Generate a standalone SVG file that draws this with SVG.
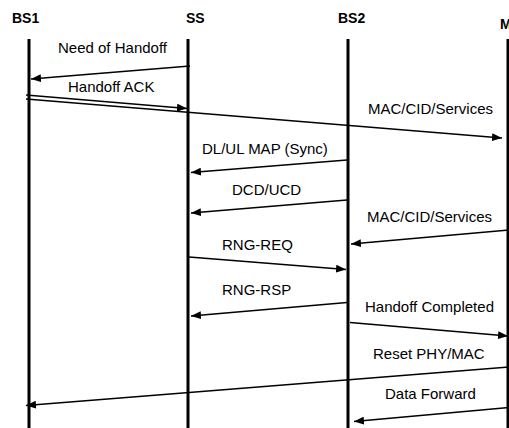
<svg xmlns="http://www.w3.org/2000/svg" width="509" height="428" viewBox="0 0 509 428">
<style>
.t{font-family:"Liberation Sans",Arial,sans-serif;font-size:14px;font-weight:bold;fill:#000}
.l{font-family:"Liberation Sans",Arial,sans-serif;font-size:15px;fill:#000}
.life{stroke:#000;stroke-width:3;fill:none}
.msg{stroke:#000;stroke-width:1.5;fill:none;marker-end:url(#ah)}
</style>
<defs>
<marker id="ah" markerUnits="userSpaceOnUse" markerWidth="11" markerHeight="8" refX="10" refY="4" orient="auto">
<path d="M0,0 L10,4 L0,8 Z" fill="#000"/>
</marker>
</defs>
<rect width="509" height="428" fill="#fff"/>
<g id="BS1"><text class="t" x="12" y="23">BS1</text><line class="life" x1="29" y1="39" x2="29" y2="428"/></g>
<g id="SS"><text class="t" x="186" y="23">SS</text><line class="life" x1="188" y1="39" x2="188" y2="428"/></g>
<g id="BS2"><text class="t" x="338" y="23">BS2</text><line class="life" x1="348" y1="39" x2="348" y2="428"/></g>
<g id="MS"><text class="t" x="500" y="29">M</text><line class="life" x1="508" y1="39" x2="508" y2="428"/></g>
<g id="connectors">
<line class="msg" x1="190" y1="66" x2="31" y2="79"/>
<line class="msg" x1="26" y1="95" x2="187" y2="108.5"/>
<line class="msg" x1="26" y1="99" x2="502" y2="138"/>
<line class="msg" x1="347" y1="160" x2="191" y2="172.5"/>
<line class="msg" x1="347" y1="200" x2="191" y2="213"/>
<line class="msg" x1="509" y1="230" x2="351" y2="244"/>
<line class="msg" x1="189" y1="257" x2="346" y2="269.5"/>
<line class="msg" x1="347" y1="302.5" x2="191" y2="316"/>
<line class="msg" x1="350" y1="322.5" x2="508" y2="336"/>
<line class="msg" x1="509" y1="367" x2="26" y2="405.5"/>
<line class="msg" x1="509" y1="407.5" x2="354" y2="421.5"/>
</g>
<g id="labels">
<text class="l" x="58" y="53">Need of Handoff</text>
<text class="l" x="68" y="92">Handoff ACK</text>
<text class="l" x="368" y="114">MAC/CID/Services</text>
<text class="l" x="202" y="154">DL/UL MAP (Sync)</text>
<text class="l" x="232" y="195">DCD/UCD</text>
<text class="l" x="367" y="222">MAC/CID/Services</text>
<text class="l" x="222" y="250">RNG-REQ</text>
<text class="l" x="222" y="295">RNG-RSP</text>
<text class="l" x="365" y="312">Handoff Completed</text>
<text class="l" x="373" y="359">Reset PHY/MAC</text>
<text class="l" x="385" y="399">Data Forward</text>
</g>
</svg>
